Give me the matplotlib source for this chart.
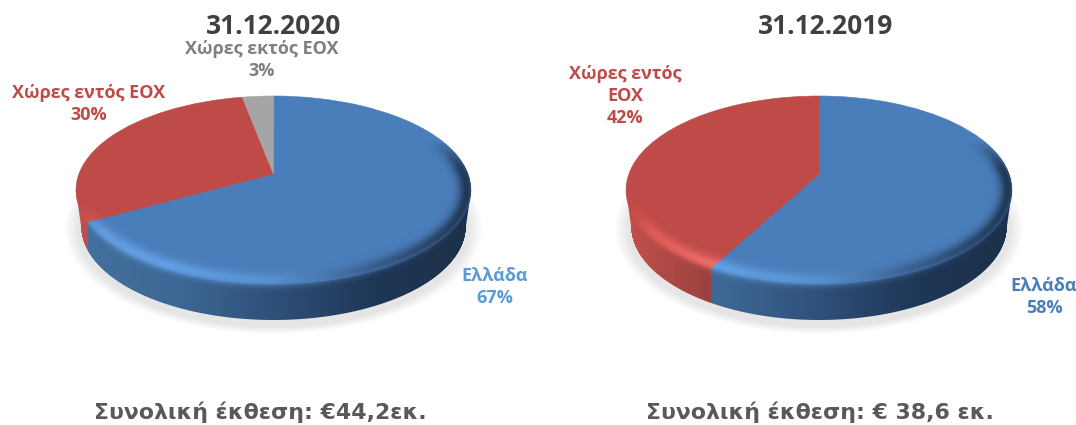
import numpy as np
import matplotlib
matplotlib.use('Agg')
from matplotlib import pyplot as plt
from matplotlib.transforms import Affine2D, Transform

plt.rcParams['font.family'] = ['Open Sans', 'DejaVu Sans']

slices_2020 = [67, 30, 3]
slices_2019 = [58, 42]
titles = ['31.12.2020', '31.12.2019']
totals = ['Συνολική έκθεση: €44,2εκ.', 'Συνολική έκθεση: € 38,6 εκ.']

W, H = 1076, 425
FACE = ['#4a7ebb', '#be4b48', '#a5a5a5']
# gradient stops across the pie width: rim highlight and side wall, per slice
STOPS = [0, 0.25, 0.5, 0.75, 1]
RIM = [['#629bdd', '#62a0e4', '#5a90cf', '#3a5f8f', '#1f3552'],
       ['#d9544f', '#ee706b', '#e06662', '#b05050', '#904040'],
       ['#b5b5b5'] * 5]
SIDE = [['#44719f', '#3e6896', '#2f5079', '#1f3757', '#1c3049'],
        ['#c4504d', '#93403d', '#8a3b38', '#803634', '#803634'],
        ['#808080'] * 5]
DEPTH = 36
TAPER = 5


def ramp(colors, t):
    rgb = np.array([matplotlib.colors.to_rgb(c) for c in colors])
    return np.stack([np.interp(t, STOPS, rgb[:, i]) for i in range(3)], axis=-1)


class Tilt(Transform):
    """Perspective of the unit circle, apex stays at the origin, y points down."""
    input_dims = 2
    output_dims = 2

    def __init__(self, R, k, c):
        super().__init__()
        self.R, self.k, self.c = R, k, c

    def transform_non_affine(self, values):
        values = np.asarray(values)
        d = 1 + self.c * values[:, 1]
        return np.column_stack([self.R * values[:, 0] / d, -self.k * values[:, 1] / d])


def draw_pie(ax, values, ax0, ay0, rx, top=78, bottom=110):
    c = (bottom - top) / (bottom + top)
    k = top * (1 + c)
    R = rx * np.sqrt(1 - c ** 2)
    cy = ay0 + (bottom - top) / 2
    ry = (top + bottom) / 2

    fracs = np.cumsum(values) / np.sum(values)
    yy, xx = np.mgrid[0:H, 0:W] + 0.5
    dx = xx - ax0
    dy = yy - cy
    t = np.clip((dx + rx) / (2 * rx), 0, 1)
    arc = np.sqrt(np.clip(1 - (dx / rx) ** 2, 0, 1))
    edge = cy + ry * arc
    r = np.sqrt((dx / rx) ** 2 + (dy / ry) ** 2)
    inside = r <= 1

    # which slice a pixel belongs to: side pixels look up their rim point
    py = np.where(inside, yy, edge) - ay0
    v = -py / (k + c * py)
    u = dx * (1 + c * v) / R
    frac = (np.arctan2(u, v) / (2 * np.pi)) % 1
    idx = np.minimum(np.searchsorted(fracs, frac), len(values) - 1)

    side_rgb = np.zeros((H, W, 3))
    rim_rgb = np.zeros((H, W, 3))
    for i in range(len(values)):
        m = idx == i
        side_rgb[m] = ramp(SIDE[i], t[m])
        rim_rgb[m] = ramp(RIM[i], t[m])

    # wall narrows a little towards its lower edge
    low_rx = rx - TAPER
    low_arc = np.sqrt(np.clip(1 - (dx / low_rx) ** 2, 0, 1))
    wall_rx = rx - TAPER * np.clip((yy - cy) / DEPTH, 0, 1)
    cover = np.clip(wall_rx - np.abs(dx) + 0.5, 0, 1) * np.clip(cy + DEPTH + ry * low_arc - yy + 0.5, 0, 1)
    cover = cover * (yy > cy - 2)
    ax.imshow(np.dstack([side_rgb, cover]), extent=(0, W, H, 0), zorder=2, interpolation='nearest')

    # soft ground shadow
    rs = np.sqrt((dx / (rx + 6)) ** 2 + ((yy - cy - DEPTH - 3) / (ry + 8)) ** 2)
    shadow = np.clip((1.03 - rs) / 0.07, 0, 1) * 0.35
    ax.imshow(np.dstack([np.full((H, W, 3), 0.72), shadow]), extent=(0, W, H, 0), zorder=1,
              interpolation='nearest')

    tilt = Tilt(R, k, c) + Affine2D().translate(ax0, ay0) + ax.transData
    wedges, _ = ax.pie(values, colors=FACE[:len(values)], startangle=90, counterclock=False,
                       wedgeprops=dict(transform=tilt, linewidth=0.4, zorder=3))
    for w, col in zip(wedges, FACE):
        w.set_edgecolor(col)

    # bevel round the front of the face
    q = np.where(inside, -(1 - r) * ry * (1 + np.abs(dx / rx) ** 4), yy - edge)
    width = np.where(q < -4, 6.5, 6.0)
    low = 0.15 - 0.75 * t
    gate = np.clip((dy / ry - low) / 0.35, 0, 1)
    bevel = np.exp(-((q + 4) / width) ** 2) * gate
    bevel = bevel * np.where(inside, 1.0, cover)
    ax.imshow(np.dstack([rim_rgb, bevel]), extent=(0, W, H, 0), zorder=4, interpolation='nearest')


fig = plt.figure(figsize=(W / 100, H / 100), dpi=100)
ax = fig.add_axes([0, 0, 1, 1])
draw_pie(ax, slices_2020, 273.5, 174, 197.5)
draw_pie(ax, slices_2019, 819, 174, 193)
ax.set_aspect('auto')
ax.set_xlim(0, W)
ax.set_ylim(H, 0)
ax.axis('off')

label = dict(ha='center', va='center', fontweight='bold', fontsize=13, zorder=6, linespacing=1.27)
ax.text(274, 26, titles[0], ha='center', va='center', fontweight='bold', fontsize=19, color='#404040', zorder=6)
ax.text(826, 26, titles[1], ha='center', va='center', fontweight='bold', fontsize=19, color='#404040', zorder=6)
ax.text(262, 60, 'Χώρες εκτός ΕΟΧ\n3%', color='#7f7f7f', **label)
ax.text(89, 104, 'Χώρες εντός ΕΟΧ\n30%', color='#be4b48', **label)
ax.text(495, 287, 'Ελλάδα\n67%', color='#5b9bd5', **label)
ax.text(625, 96, 'Χώρες εντός\nΕΟΧ\n42%', color='#be4b48', **label)
ax.text(1044, 297, 'Ελλάδα\n58%', color='#4a7ebb', **label)
ax.text(260, 412, totals[0], ha='center', va='center', fontweight='bold', fontsize=15.8, color='#595959',
        family='DejaVu Sans', zorder=6)
ax.text(820, 412, totals[1], ha='center', va='center', fontweight='bold', fontsize=15.8, color='#595959',
        family='DejaVu Sans', zorder=6)

fig.savefig('out.png', dpi=100)
